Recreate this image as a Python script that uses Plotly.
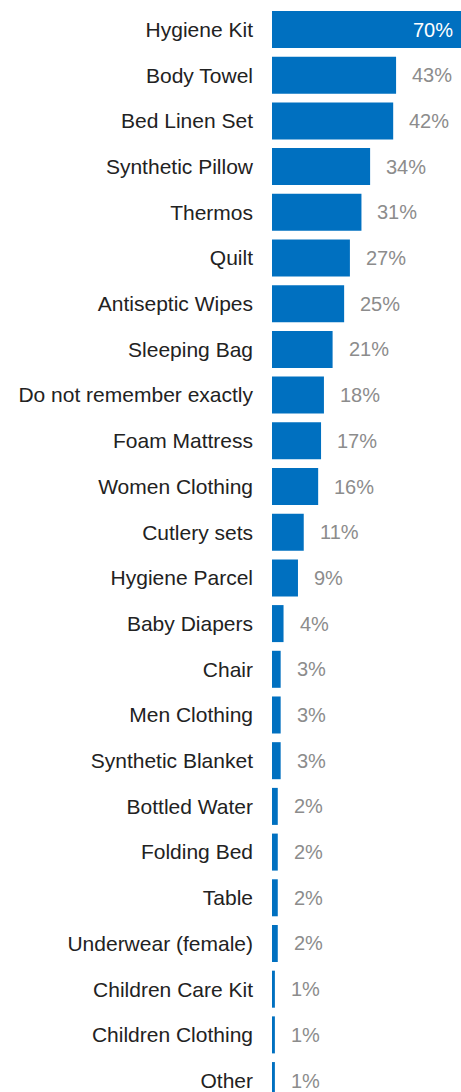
import plotly.graph_objects as go

# Items received (share of respondents, %)
categories = [
    "Hygiene Kit", "Body Towel", "Bed Linen Set", "Synthetic Pillow", "Thermos",
    "Quilt", "Antiseptic Wipes", "Sleeping Bag", "Do not remember exactly",
    "Foam Mattress", "Women Clothing", "Cutlery sets", "Hygiene Parcel",
    "Baby Diapers", "Chair", "Men Clothing", "Synthetic Blanket", "Bottled Water",
    "Folding Bed", "Table", "Underwear (female)", "Children Care Kit",
    "Children Clothing", "Other",
]
values = [70, 43, 42, 34, 31, 27, 25, 21, 18, 17, 16, 11, 9, 4, 3, 3, 3, 2, 2, 2, 2, 1, 1, 1]

BLUE = "#0070C0"
GREY = "#8C8C8C"
INK = "#222222"
FONT = "Liberation Sans, Arial, sans-serif"
X_MAX = 65.5

fig = go.Figure(
    go.Bar(
        x=values,
        y=categories,
        orientation="h",
        marker=dict(color=BLUE, line=dict(width=0)),
        hoverinfo="skip",
    )
)

# value labels: outside the bar in grey, or inside in white when the bar runs past the axis
annotations = []
for cat, v in zip(categories, values):
    if v >= X_MAX:
        annotations.append(dict(
            x=X_MAX, y=cat, xref="x", yref="y", text=f"{v}%", showarrow=False,
            xanchor="right", xshift=-6, font=dict(family=FONT, size=20, color="white"),
        ))
    else:
        annotations.append(dict(
            x=v, y=cat, xref="x", yref="y", text=f"{v}%", showarrow=False,
            xanchor="left", xshift=14, font=dict(family=FONT, size=20, color=GREY),
        ))

fig.update_layout(
    width=461,
    height=1092,
    margin=dict(l=272, r=0, t=0, b=0),
    paper_bgcolor="white",
    plot_bgcolor="white",
    bargap=0.19,
    showlegend=False,
    annotations=annotations,
    font=dict(family=FONT, size=21, color=INK),
    xaxis=dict(range=[0, X_MAX], visible=False, fixedrange=True),
    yaxis=dict(
        type="category",
        categoryorder="array",
        categoryarray=categories,
        range=[23.25, -0.646],
        showgrid=False,
        zeroline=False,
        showline=False,
        ticks="",
        ticklabelstandoff=18,
        tickfont=dict(family=FONT, size=21, color=INK),
        fixedrange=True,
    ),
)

fig.write_html("out.html")
